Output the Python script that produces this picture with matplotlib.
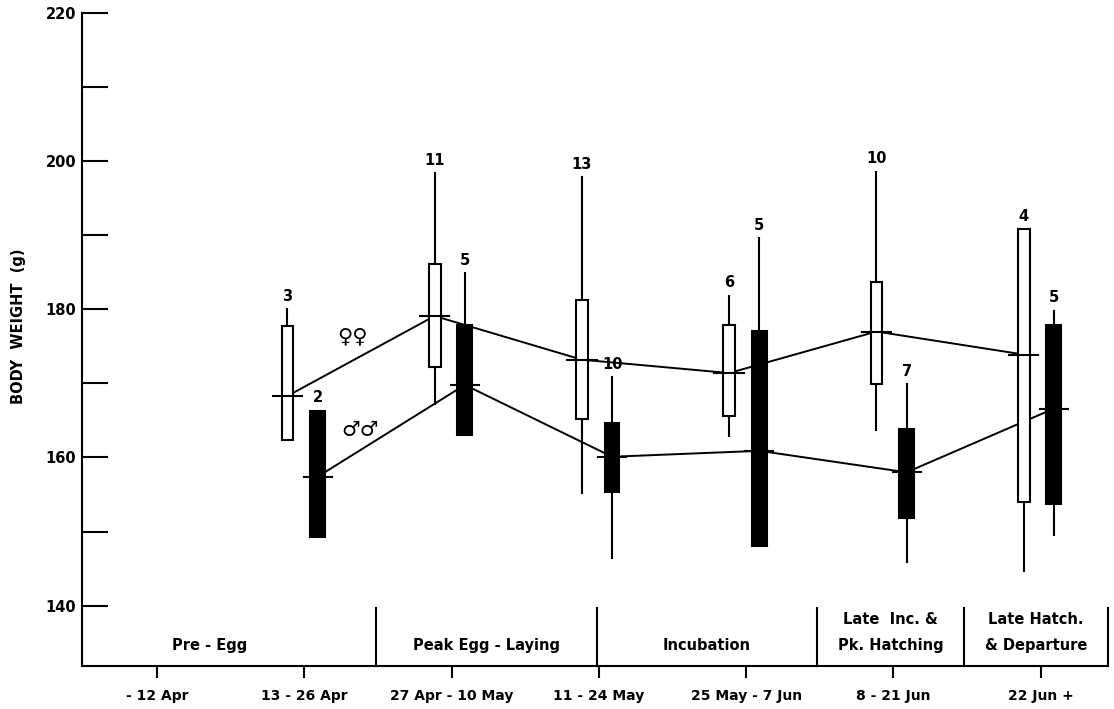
import numpy as np
import matplotlib
matplotlib.use("Agg")
import matplotlib.pyplot as plt
from matplotlib.patches import Rectangle

# ---------------------------------------------------------------------------
# data (body weight, g)
# ---------------------------------------------------------------------------
periods = ['- 12 Apr', '13 - 26 Apr', '27 Apr - 10 May', '11 - 24 May',
           '25 May - 7 Jun', '8 - 21 Jun', '22 Jun +']
sampled = [1, 2, 3, 4, 5, 6]          # period index of each sample

female_mean = [168.3, 179.1, 173.2, 171.4, 177.0, 173.9]
female_lo = [162.3, 172.2, 165.2, 165.6, 169.9, 154.0]
female_hi = [177.8, 186.1, 181.2, 177.9, 183.7, 190.8]
female_min = [np.nan, 167.2, 155.2, 162.9, 163.7, 144.7]
female_max = [180.0, 198.4, 197.8, 181.8, 198.6, np.nan]
female_n = [3, 11, 13, 6, 10, 4]

male_mean = [157.4, 169.8, 160.1, 160.9, 158.0, 166.6]
male_lo = [149.3, 163.0, 155.4, 148.0, 151.9, 153.7]
male_hi = [166.3, 177.9, 164.7, 177.1, 163.9, 177.9]
male_min = [np.nan, np.nan, 146.5, np.nan, 145.9, 149.5]
male_max = [np.nan, 184.9, 170.8, 189.6, 169.9, 179.8]
male_n = [2, 5, 10, 5, 7, 5]

phases = ['Pre - Egg', 'Peak Egg - Laying', 'Incubation',
          'Late  Inc. &\nPk. Hatching', 'Late Hatch.\n& Departure']
phase_edges = [-0.51, 1.49, 2.985, 4.48, 5.48, 6.46]

yticks = [140, 150, 160, 170, 180, 190, 200, 210, 220]
ytick_labels = ['140', '', '160', '', '180', '', '200', '', '220']

plt.rcParams['font.family'] = 'DejaVu Sans'
plt.rcParams['font.weight'] = 'bold'

fig = plt.figure(figsize=(11.14, 7.09), dpi=100)
ax = fig.add_axes([0.0736, 0.0611, 0.9213, 0.9206])
ax.set_xlim(phase_edges[0], phase_edges[-1])
ax.set_ylim(131.9, 220)

LW = 1.5


def draw_group(xs, mean, lo, hi, vmin, vmax, n, w, half_tick, filled):
    xs = np.asarray(xs, dtype=float)
    # connecting line of means
    ax.plot(xs, mean, color='black', lw=1.4, zorder=1, solid_capstyle='butt')
    for x, m, a, b, mn, mx, k in zip(xs, mean, lo, hi, vmin, vmax, n):
        if not np.isnan(mn):
            ax.plot([x, x], [mn, a], color='black', lw=LW, zorder=2)
        top = b
        if not np.isnan(mx):
            ax.plot([x, x], [b, mx], color='black', lw=LW, zorder=2)
            top = mx
        ax.add_patch(Rectangle((x - w / 2, a), w, b - a,
                               facecolor='black' if filled else 'white',
                               edgecolor='black', lw=LW, zorder=3))
        ax.plot([x - half_tick, x + half_tick], [m, m], color='black',
                lw=LW, zorder=4)
        ax.annotate(str(k), (x, top), xytext=(0, 13), textcoords='offset pixels',
                    ha='center', va='center', fontsize=10.5, fontweight='bold')


fx = [s - 0.115 for s in sampled]
mx_ = [s + 0.09 for s in sampled]
draw_group(fx, female_mean, female_lo, female_hi, female_min, female_max,
           female_n, 0.08, 0.1, False)
draw_group(mx_, male_mean, male_lo, male_hi, male_min, male_max,
           male_n, 0.1, 0.095, True)

ax.text(1.33, 176.3, '\u2640\u2640', fontsize=15, fontweight='bold',
        ha='center', va='center')
ax.text(1.38, 163.7, '\u2642\u2642', fontsize=15, fontweight='bold',
        ha='center', va='center')

# phase boxes along the bottom
for e in phase_edges[1:]:
    ax.plot([e, e], [131.9, 139.7], color='black', lw=LW, clip_on=False,
            zorder=2)
for i, name in enumerate(phases):
    cx = (phase_edges[i] + phase_edges[i + 1]) / 2
    if i == 0:
        cx = 0.36
    ax.text(cx, 134.6 if '\n' not in name else 136.4, name, ha='center',
            va='center', fontsize=10.5, fontweight='bold', linespacing=1.95)

# axes styling
for s in ['top', 'right']:
    ax.spines[s].set_visible(False)
for s in ['left', 'bottom']:
    ax.spines[s].set_linewidth(LW)

ax.set_yticks(yticks)
ax.set_yticklabels(ytick_labels, fontsize=10.5, fontweight='bold')
ax.tick_params(axis='y', direction='in', length=18.5, width=LW, pad=4)

ax.set_xticks(range(len(periods)))
ax.set_xticklabels(periods, fontsize=10, fontweight='bold')
ax.tick_params(axis='x', direction='out', length=8.5, width=LW, pad=8)

ax.set_ylabel('BODY  WEIGHT  (g)', fontsize=10.5, fontweight='bold')
ax.yaxis.set_label_coords(-0.055, 0.52)

fig.savefig('out.png', dpi=100)
